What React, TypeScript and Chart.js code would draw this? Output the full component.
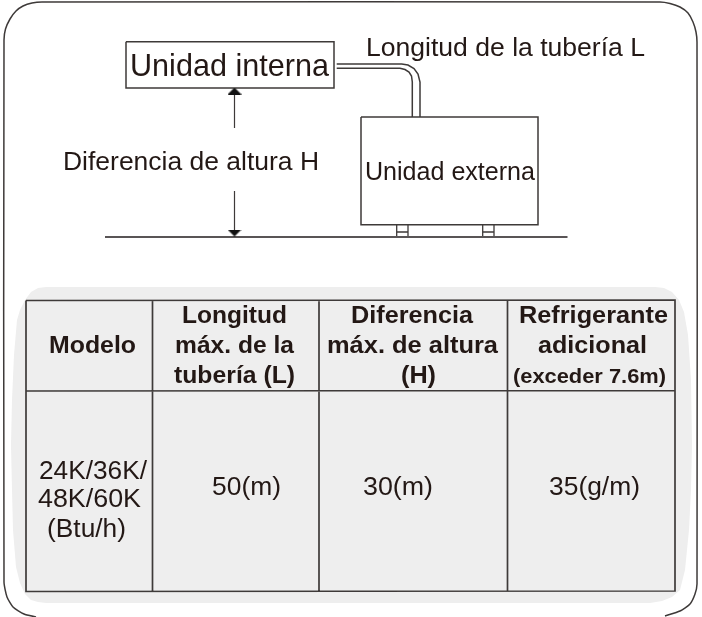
import React, { useEffect, useRef } from "react";
import { Chart, registerables } from "chart.js";

Chart.register(...registerables);

type P = { x: number; y: number } | { x: number; y: null };

const pts = (raw: (number | null)[][]) =>
  raw.map(([x, y]) => ({ x: x as number, y: y as number | null }));

// Diagram geometry, in the units of the two linear scales
const panelTopEdge = [[11, 445], [12, 400], [14, 355], [17, 320], [20, 310], [25, 300], [31, 292], [38, 288], [46, 287], [655, 287], [664, 288], [672, 292], [679, 300], [684, 312], [688, 335], [691, 380], [692, 445]];
const panelBottomEdge = [[11, 445], [12, 490], [13, 530], [16, 567], [20, 583], [25, 594], [31, 600], [38, 602], [46, 603], [650, 603], [662, 601], [672, 597], [680, 590], [685, 570], [689, 530], [691, 490], [692, 445]];
const frameLine = [[36, 617], [24, 614], [13, 607], [7, 597], [4, 582], [4, 40], [5.5, 29], [10, 19], [16, 11], [23, 6], [32, 3], [42, 2], [660, 2], [670, 3.5], [680, 7], [688, 13], [693, 22], [696, 32], [697, 42], [697, 584], [695, 594], [690, 604], [680, 611], [665, 616]];
const tableGrid = [[26, 300.5], [675, 300], [675, 591], [26, 591.5], [26, 300.5], [null, null], [26, 391], [675, 390.5], [null, null], [152.5, 300.5], [152.5, 591.5], [null, null], [319, 300.5], [319, 591.5], [null, null], [507.5, 300.5], [507.5, 591]];
const indoorBox = [[126, 41.7], [334, 41.7], [334, 88], [126, 88], [126, 41.7]];
const outdoorBox = [[361, 117], [538, 117], [538, 224.7], [361, 224.7], [361, 117]];
const pipeOuter = [[336.7, 64], [401.7, 64], [408, 65], [414, 68.5], [418, 74], [420, 82], [420, 117]];
const pipeInner = [[336.7, 68.3], [400, 68.3], [405, 69.5], [409, 72], [411.5, 76], [412.3, 82], [412.3, 117]];
const groundLine = [[105, 237], [567.5, 237]];
const feetLines = [[396.7, 225], [396.7, 237], [null, null], [408, 225], [408, 237], [null, null], [396.7, 232], [408, 232], [null, null], [482.7, 225], [482.7, 237], [null, null], [494, 225], [494, 237], [null, null], [482.7, 232], [494, 232]];
const heightArrowLines = [[234.5, 94], [234.5, 128], [null, null], [234.5, 191], [234.5, 231]];
const arrowUpTip = [[234.5, 91]];
const arrowDownTip = [[234.5, 233]];

// Texts
const diagramLabels = ["Longitud de la tubería L", "Unidad interna", "Diferencia de altura H", "Unidad externa"];
const tableHeaders = ["Modelo", "Longitud", "máx. de la", "tubería (L)", "Diferencia", "máx. de altura", "(H)", "Refrigerante", "adicional", "(exceder 7.6m)"];
const modelLines = ["24K/36K/", "48K/60K", "(Btu/h)"];
const tableValues = ["50(m)", "30(m)", "35(g/m)"];

// Where each text sits: [left, right, baseline, font px, bold]
const diagramLabelBoxes = [[366, 645, 56, 25, 0], [130, 329, 76, 32, 0], [63, 319, 170, 26, 0], [365, 535, 180, 25.5, 0]];
const headerBoxes = [[49, 136, 353, 24.5, 1], [182, 287, 323, 24.5, 1], [175, 294, 353, 24.5, 1], [174, 295, 383, 24.5, 1], [351, 473, 323, 24.5, 1], [327, 498, 353, 24.5, 1], [401, 436, 383, 24.5, 1], [519, 668, 323, 24.5, 1], [538, 647, 353, 24.5, 1], [513, 666, 383, 21, 1]];
const modelBoxes = [[39, 147, 479, 25, 0], [38, 141, 507, 25, 0], [47, 126, 537, 25, 0]];
const valueBoxes = [[212, 281, 495, 25, 0], [363, 433, 495, 25, 0], [549, 640, 495, 25, 0]];

const ink = "#3e3a39";
const textInk = "#231815";

const textPlugin = {
  id: "diagramText",
  afterDatasetsDraw(chart: any) {
    const { ctx, scales } = chart;
    const draw = (texts: string[], boxes: number[][]) => {
      texts.forEach((t, i) => {
        const [l, r, b, size, bold] = boxes[i];
        const x0 = scales.x.getPixelForValue(l);
        const x1 = scales.x.getPixelForValue(r);
        const y = scales.y.getPixelForValue(b);
        ctx.save();
        ctx.font = `${bold ? "bold " : ""}${size}px "Liberation Sans", Arial, sans-serif`;
        ctx.fillStyle = textInk;
        ctx.textAlign = "left";
        ctx.textBaseline = "alphabetic";
        const w = ctx.measureText(t).width;
        ctx.translate(x0, y);
        ctx.scale((x1 - x0) / w, 1);
        ctx.fillText(t, 0, 0);
        ctx.restore();
      });
    };
    draw(diagramLabels, diagramLabelBoxes);
    draw(tableHeaders, headerBoxes);
    draw(modelLines, modelBoxes);
    draw(tableValues, valueBoxes);
  },
};

const stroke = (label: string, raw: (number | null)[][], width: number, tension = 0, color = ink) => ({
  label,
  data: pts(raw) as P[],
  showLine: true,
  borderColor: color,
  borderWidth: width,
  pointRadius: 0,
  tension,
  fill: false,
  spanGaps: false,
  borderCapStyle: "butt" as const,
  clip: false,
  order: 1,
});

// A flat arrow head, used as the point style of the two arrow tips
const makeHead = (up: boolean) => {
  const c = document.createElement("canvas");
  c.width = 14;
  c.height = 7;
  const g = c.getContext("2d")!;
  g.fillStyle = "#111111";
  g.beginPath();
  if (up) {
    g.moveTo(7, 0);
    g.lineTo(14, 7);
    g.lineTo(0, 7);
  } else {
    g.moveTo(0, 0);
    g.lineTo(14, 0);
    g.lineTo(7, 7);
  }
  g.closePath();
  g.fill();
  return c;
};

export default function App() {
  const ref = useRef<HTMLCanvasElement>(null);
  useEffect(() => {
    const chart = new Chart(ref.current!, {
      type: "scatter",
      data: {
        datasets: [
          { label: "panelTop", order: 10, data: pts(panelTopEdge) as any, showLine: true, borderWidth: 0, pointRadius: 0, backgroundColor: "#eeeeee", fill: { value: 450 } },
          { label: "panelBottom", order: 10, data: pts(panelBottomEdge) as any, showLine: true, borderWidth: 0, pointRadius: 0, backgroundColor: "#eeeeee", fill: { value: 440 } },
          stroke("frame", frameLine, 1.5, 0.2),
          stroke("table", tableGrid, 1.7),
          stroke("indoor", indoorBox, 1.5),
          stroke("outdoor", outdoorBox, 1.5),
          stroke("pipeOuter", pipeOuter, 1.5),
          stroke("pipeInner", pipeInner, 1.5),
          stroke("ground", groundLine, 2, 0, "#595556"),
          stroke("feet", feetLines, 1.3),
          stroke("arrowLines", heightArrowLines, 1.2),
          { label: "arrowUp", order: 0, data: pts(arrowUpTip) as any, pointStyle: makeHead(true), pointRadius: 7, clip: false },
          { label: "arrowDown", order: 0, data: pts(arrowDownTip) as any, pointStyle: makeHead(false), pointRadius: 7, clip: false },
        ] as any,
      },
      options: {
        animation: false,
        responsive: false,
        layout: { padding: 0, autoPadding: false },
        plugins: { legend: { display: false }, tooltip: { enabled: false }, title: { display: false } },
        scales: {
          x: { type: "linear", min: 0, max: 702, display: false },
          y: { type: "linear", min: 0, max: 617, reverse: true, display: false },
        },
      },
      plugins: [textPlugin],
    } as any);
    return () => chart.destroy();
  }, []);
  return (
    <div style={{ position: "fixed", left: 0, top: 0, width: 702, height: 617, background: "#fff" }}>
      <canvas ref={ref} width={702} height={617} style={{ display: "block" }} />
    </div>
  );
}
